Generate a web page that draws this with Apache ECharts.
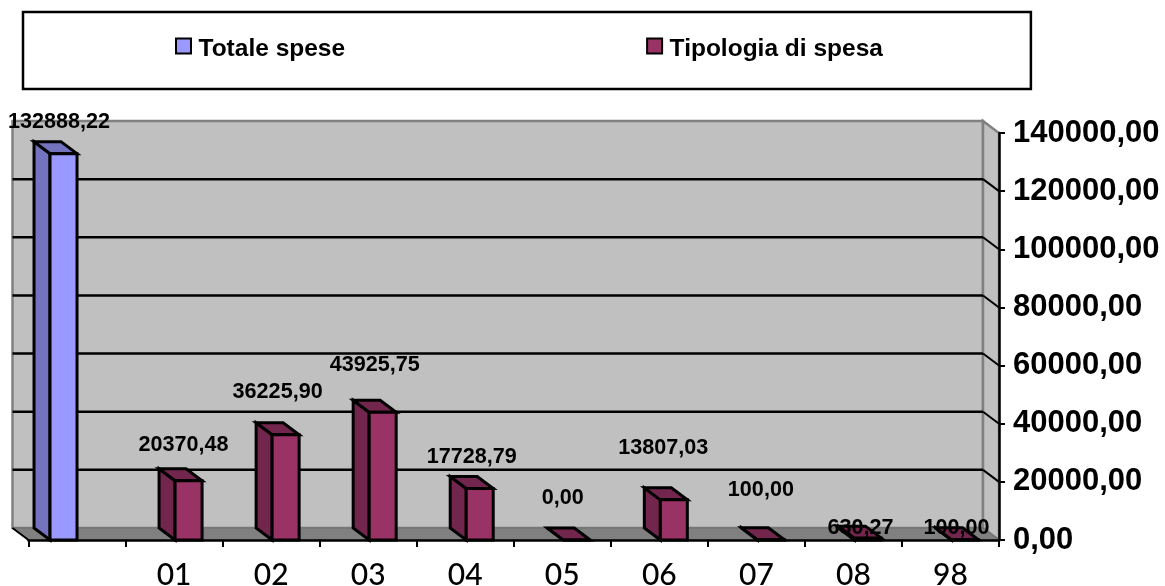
<!DOCTYPE html>
<html>
<head>
<meta charset="utf-8">
<title>Totale spese</title>
<script src="https://cdn.jsdelivr.net/npm/echarts@6/dist/echarts.min.js"></script>
<style>
  html, body { margin: 0; padding: 0; background: #fff; }
  #main { width: 1165px; height: 586px; }
</style>
</head>
<body>
<div id="main"></div>
<script>
// dati
var categories = ['', '01', '02', '03', '04', '05', '06', '07', '08', '98'];
var totaleSpese = [132888.22, null, null, null, null, null, null, null, null, null];
var tipologiaSpesa = [null, 20370.48, 36225.90, 43925.75, 17728.79, 0, 13807.03, 100, 630.27, 100];
var yTicks = [0, 20000, 40000, 60000, 80000, 100000, 120000, 140000];

// le etichette nell'originale sono spostate a mano, una per una
var labelNudge = [[-4.5, -32], [-5, -36], [-8, -43], [-8, -47], [-8, -31], [-14, -42], [-10.5, -52], [-10, -50], [-7.5, -10], [-8.5, -12]];

var DEPTH_X = 16, DEPTH_Y = 12, BAR_W = 27;
var BLACK = '#000';

function fmt(v) {
  return v.toFixed(2).replace('.', ',');
}

function poly(points, fill, stroke, width) {
  return {
    type: 'polygon',
    shape: { points: points },
    style: { fill: fill, stroke: stroke || null, lineWidth: width || 0, lineJoin: 'miter' }
  };
}

function line(x1, y1, x2, y2, color, width) {
  return {
    type: 'line',
    shape: { x1: x1, y1: y1, x2: x2, y2: y2 },
    style: { stroke: color, lineWidth: width, fill: null }
  };
}

// pareti, pavimento e griglia della finta prospettiva
function renderWall(params, api) {
  var r = params.coordSys;
  var y = api.coord([0, api.value(0)])[1];
  var left = r.x, right = r.x + r.width;
  var bottom = r.y + r.height;
  var children = [];
  if (params.dataIndex === 0) {
    children.push(poly([[left - DEPTH_X, r.y - DEPTH_Y], [right - DEPTH_X, r.y - DEPTH_Y], [right - DEPTH_X, bottom - DEPTH_Y], [left - DEPTH_X, bottom - DEPTH_Y]], '#C0C0C0', '#808080', 2.5));
    children.push(poly([[right - DEPTH_X, r.y - DEPTH_Y], [right, r.y], [right, bottom], [right - DEPTH_X, bottom - DEPTH_Y]], '#C0C0C0', '#808080', 2.5));
    children.push(poly([[left - DEPTH_X, bottom - DEPTH_Y], [right - DEPTH_X, bottom - DEPTH_Y], [right, bottom], [left, bottom]], '#808080', '#6e6e6e', 1));
    children.push(line(left - DEPTH_X, bottom - DEPTH_Y, left, bottom, BLACK, 2));
  }
  var isEdge = api.value(0) === 0 || api.value(0) === 140000;
  if (!isEdge) {
    children.push(line(left - DEPTH_X, y - DEPTH_Y, right - DEPTH_X, y - DEPTH_Y, BLACK, 2.5));
    children.push(line(right - DEPTH_X, y - DEPTH_Y, right, y, BLACK, 2));
  }
  return { type: 'group', children: children };
}

// barra 3D: faccia frontale, fianco sinistro e tetto
function makeBar(slot, front, dark) {
  return function (params, api) {
    var v = api.value(1);
    if (v == null || isNaN(v)) return null;
    var idx = api.value(0);
    var top = api.coord([idx, v]);
    var base = api.coord([idx, 0]);
    var x0 = slot === 0 ? top[0] - BAR_W : top[0] + 1;
    var x1 = x0 + BAR_W;
    var nudge = labelNudge[idx];
    return {
      type: 'group',
      children: [
        poly([[x0 - DEPTH_X, top[1] - DEPTH_Y], [x0, top[1]], [x0, base[1]], [x0 - DEPTH_X, base[1] - DEPTH_Y]], dark, BLACK, 3),
        poly([[x0 - DEPTH_X, top[1] - DEPTH_Y], [x1 - DEPTH_X, top[1] - DEPTH_Y], [x1, top[1]], [x0, top[1]]], dark, BLACK, 3),
        poly([[x0, top[1]], [x1, top[1]], [x1, base[1]], [x0, base[1]]], front, BLACK, 3),
        {
          type: 'text',
          z2: 10,
          style: {
            x: (x0 + x1) / 2 + nudge[0],
            y: top[1] + nudge[1],
            text: fmt(v),
            fill: BLACK,
            font: 'bold 21.6px "Liberation Sans", Arial, sans-serif',
            align: 'center',
            verticalAlign: 'middle'
          }
        }
      ]
    };
  };
}

function barData(values) {
  return values.map(function (v, i) { return [i, v]; });
}

var myChart = echarts.init(document.getElementById('main'), null, { renderer: 'canvas' });

myChart.setOption({
  animation: false,
  backgroundColor: '#fff',
  legend: {
    left: 23,
    top: 12,
    orient: 'horizontal',
    padding: [24.5, 148, 27.5, 152],
    itemGap: 301,
    itemWidth: 15,
    itemHeight: 15,
    borderColor: BLACK,
    borderWidth: 2.5,
    selectedMode: false,
    formatter: '{a|{name}}',
    textStyle: {
      rich: {
        a: { color: BLACK, fontFamily: '"Liberation Sans", Arial, sans-serif', fontWeight: 'bold', fontSize: 24.5, padding: [6, 0, 0, 2.5] }
      }
    },
    data: [
      { name: 'Totale spese', icon: 'rect', itemStyle: { color: '#9999FF', borderColor: BLACK, borderWidth: 2 } },
      { name: 'Tipologia di spesa', icon: 'rect', itemStyle: { color: '#993366', borderColor: BLACK, borderWidth: 2 } }
    ]
  },
  grid: { left: 28.5, top: 133, width: 970.5, height: 407, outerBoundsMode: 'none' },
  xAxis: {
    type: 'category',
    data: categories,
    z: 2,
    axisLine: { onZero: false, lineStyle: { color: BLACK, width: 2.5 } },
    axisTick: { show: true, length: 7, alignWithLabel: false, lineStyle: { color: BLACK, width: 2 } },
    axisLabel: { interval: 0, margin: 20, color: BLACK, fontFamily: 'Lato, sans-serif', fontSize: 30, fontWeight: 500 }
  },
  yAxis: {
    type: 'value',
    position: 'right',
    min: 0,
    max: 140000,
    interval: 20000,
    z: 2,
    splitLine: { show: false },
    axisLine: { show: true, lineStyle: { color: BLACK, width: 2.5 } },
    axisTick: { show: true, length: 6, lineStyle: { color: BLACK, width: 2 } },
    axisLabel: {
      margin: 14,
      color: BLACK,
      fontFamily: '"Liberation Sans", Arial, sans-serif',
      fontWeight: 'bold',
      fontSize: 31,
      formatter: function (v) { return fmt(v); }
    }
  },
  series: [
    { type: 'custom', name: 'pareti', coordinateSystem: 'cartesian2d', z: 1, silent: true, clip: false, renderItem: renderWall, data: yTicks.map(function (v) { return [v]; }), encode: { y: 0 } },
    { type: 'custom', name: 'Totale spese', z: 3, silent: true, clip: false, renderItem: makeBar(0, '#9999FF', '#7373BF'), data: barData(totaleSpese), encode: { x: 0, y: 1 } },
    { type: 'custom', name: 'Tipologia di spesa', z: 3, silent: true, clip: false, renderItem: makeBar(1, '#993366', '#73264D'), data: barData(tipologiaSpesa), encode: { x: 0, y: 1 } }
  ]
});
</script>
</body>
</html>
